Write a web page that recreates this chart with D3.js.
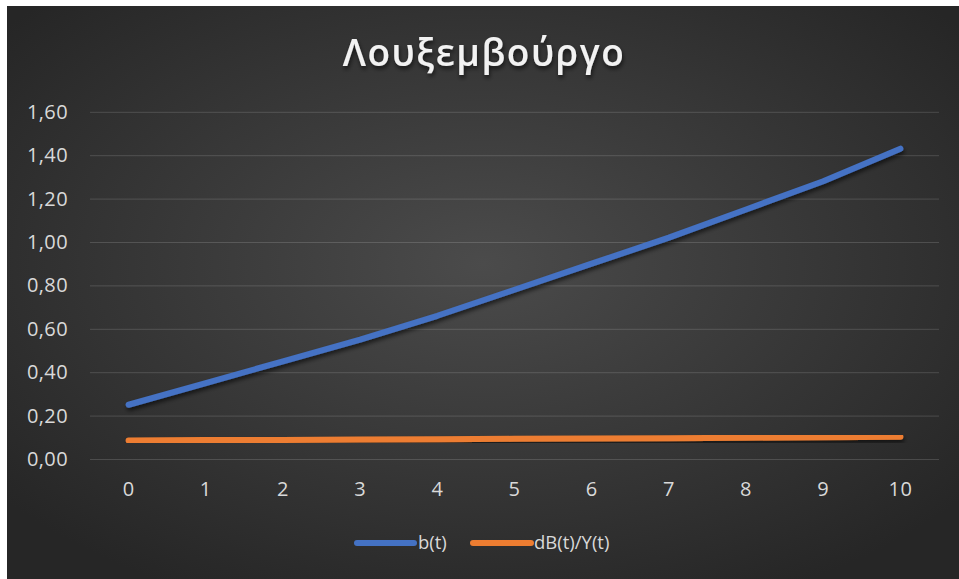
<!DOCTYPE html>
<html lang="el">
<head>
  <meta charset="UTF-8">
  <script src="https://d3js.org/d3.v7.min.js"></script>
  <title>Λουξεμβούργο</title>
  <style>
    body { margin: 0; background: #ffffff; overflow: hidden; }
    svg { display: block; font-family: 'Open Sans', 'Noto Sans', sans-serif; }
  </style>
</head>
<body>
  <svg width="959" height="579"></svg>

  <script>
    // data
    const years = [0, 1, 2, 3, 4, 5, 6, 7, 8, 9, 10];
    const bValues = [0.25, 0.35, 0.45, 0.55, 0.66, 0.78, 0.90, 1.02, 1.15, 1.28, 1.43];
    const dbValues = [0.085, 0.087, 0.088, 0.090, 0.091, 0.093, 0.094, 0.096, 0.098, 0.100, 0.103];
    const yTicks = [0, 0.2, 0.4, 0.6, 0.8, 1.0, 1.2, 1.4, 1.6];
    const seriesNames = ["b(t)", "dB(t)/Y(t)"];
    const seriesColors = ["#4472c4", "#ed7d31"];

    const svg = d3.select("svg");
    const W = 959, H = 579;
    const frame = { x: 7, y: 6 };
    const plot = { left: 90, right: 939, top: 111.8, bottom: 459 };
    const labelFont = "'Open Sans', 'Noto Sans', sans-serif";

    const defs = svg.append("defs");
    const bg = defs.append("radialGradient")
      .attr("id", "bg-grad")
      .attr("cx", "50%").attr("cy", "45%").attr("r", "65%");
    bg.append("stop").attr("offset", "0%").attr("stop-color", "#4b4b4b");
    bg.append("stop").attr("offset", "100%").attr("stop-color", "#262626");

    const shadow = defs.append("filter").attr("id", "shadow")
      .attr("x", "-10%").attr("y", "-20%").attr("width", "120%").attr("height", "160%");
    shadow.append("feDropShadow")
      .attr("dx", 1).attr("dy", 3).attr("stdDeviation", 2)
      .attr("flood-color", "#000").attr("flood-opacity", 0.6);

    // chart background
    svg.append("rect")
      .attr("x", frame.x).attr("y", frame.y)
      .attr("width", W - frame.x).attr("height", H - frame.y)
      .attr("fill", "url(#bg-grad)");

    // title
    svg.append("text")
      .attr("x", 484).attr("y", 66)
      .attr("text-anchor", "middle")
      .attr("fill", "#f2f2f2")
      .attr("font-size", 37)
      .attr("font-weight", 600)
      .attr("letter-spacing", 1.5)
      .attr("filter", "url(#shadow)")
      .text("Λουξεμβούργο");

    const x = d3.scaleBand()
      .domain(years)
      .range([plot.left, plot.right]);

    const y = d3.scaleLinear()
      .domain([0, 1.6])
      .range([plot.bottom, plot.top]);

    const fmt = v => d3.format(".2f")(v).replace(".", ",");

    // gridlines + y labels
    const yAxis = d3.axisLeft(y)
      .tickValues(yTicks)
      .tickFormat(fmt)
      .tickSize(-(plot.right - plot.left))
      .tickPadding(22);

    const gy = svg.append("g")
      .attr("transform", `translate(${plot.left},0)`)
      .call(yAxis)
      .attr("font-size", 20)
      .attr("font-family", labelFont);
    gy.select(".domain").remove();
    gy.selectAll(".tick line")
      .attr("stroke", "#ffffff")
      .attr("stroke-opacity", 0.15)
      .attr("stroke-width", 1);
    gy.selectAll(".tick text")
      .attr("fill", "#d9d9d9")
      .attr("letter-spacing", 0.4);

    // x labels
    const xAxis = d3.axisBottom(x).tickSize(0).tickPadding(23);
    const gx = svg.append("g")
      .attr("transform", `translate(0,${plot.bottom})`)
      .call(xAxis)
      .attr("font-size", 20)
      .attr("font-family", labelFont);
    gx.select(".domain").remove();
    gx.selectAll(".tick text")
      .attr("fill", "#d9d9d9")
      .attr("letter-spacing", 0.4);

    // lines
    const line = d3.line()
      .x((d, i) => x(years[i]) + x.bandwidth() / 2)
      .y(d => y(d));

    [bValues, dbValues].forEach((vals, k) => {
      svg.append("path")
        .datum(vals)
        .attr("d", line)
        .attr("fill", "none")
        .attr("stroke", seriesColors[k])
        .attr("stroke-width", 6)
        .attr("stroke-linecap", "round")
        .attr("stroke-linejoin", "round")
        .attr("filter", "url(#shadow)");
    });

    // legend
    const legendItems = [
      { x1: 357, x2: 414, tx: 418 },
      { x1: 473, x2: 531, tx: 534 }
    ];
    const legendY = 543;
    const lg = svg.append("g");
    legendItems.forEach((it, k) => {
      lg.append("line")
        .attr("x1", it.x1).attr("x2", it.x2)
        .attr("y1", legendY).attr("y2", legendY)
        .attr("stroke", seriesColors[k])
        .attr("stroke-width", 6)
        .attr("stroke-linecap", "round");
      lg.append("text")
        .attr("x", it.tx).attr("y", legendY + 6)
        .attr("fill", "#d9d9d9")
        .attr("font-size", 18.5)
        .text(seriesNames[k]);
    });
  </script>
</body>
</html>
